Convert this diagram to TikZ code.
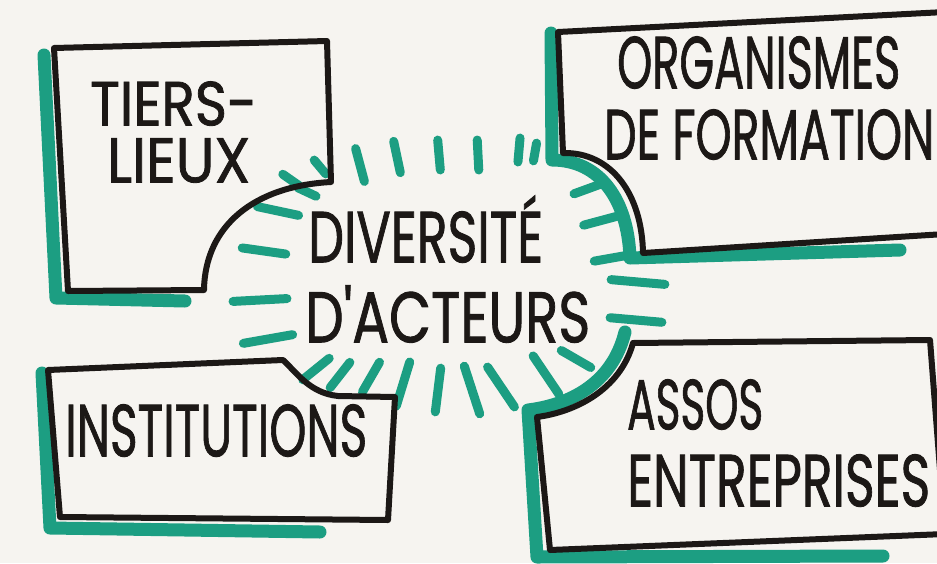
\documentclass[tikz,border=0pt]{standalone}
\usepackage{fontspec}
\setmainfont{Poppins}
\newfontfamily\markerfont{Poppins}[FakeBold=1.3]
\usepackage{graphicx}
\definecolor{paper}{RGB}{246,244,240}
\definecolor{mkgreen}{RGB}{28,158,130}
\definecolor{inkc}{RGB}{28,24,22}
\newcommand{\fitbox}[3]{\resizebox{#1}{#2}{\markerfont #3}}
\begin{document}
\begin{tikzpicture}[x=1pt,y=-1pt,
  inkline/.style={draw=inkc, line width=6pt, line join=round, line cap=round},
  greenband/.style={draw=mkgreen, line width=13pt, line join=round, line cap=round},
  raystroke/.style={draw=mkgreen, line width=9pt, line cap=round},
  lbl/.style={text=inkc, inner sep=0pt, anchor=south west}]
\fill[paper] (0,0) rectangle (937,563);
\useasboundingbox (0,0) rectangle (937,563);
\clip (0,0) rectangle (937,563);

% rays around the centre
\foreach \cx/\cy/\a/\h in {
  291/180/35/10, 320/167/50/9, 307/192/25/10,
  360/165/75/17, 397/157/78/16, 439/155/85/15, 478/155/87/15, 519/150/95/12, 535/152/100/9,
  278/211/12/21, 264/251/8/22, 260/300/-3/27, 268/339/-10/25,
  316/369/141/17, 340/375/128/16, 371/377/120/17, 403/384/107/23,
  438/390/97/22, 472/390/72/25, 501/387/56/24, 546/375/56/23, 576/359/30/17,
  590/188/-20/17, 603/220/-15/20, 612/258/-10/18, 638/282/5/27, 636/320/5/26}
  \draw[raystroke] (\cx,\cy) ++(\a:-\h) -- ++(\a:2*\h);

% green marker shadows
\draw[greenband] (44,55) -- (56,298) -- (185,301);
\draw[greenband] (551,33) -- (552,160) .. controls (600,160) and (628,200) .. (630,258) -- (900,250);
\draw[greenband] (42,373) -- (50,528) -- (320,532);
\draw[greenband] (625,332) .. controls (612,385) and (568,405) .. (528,410) -- (537,557) -- (883,556);

% boxes
\draw[inkline] (54,48) -- (327,41) -- (331,182) .. controls (255,186) and (205,225) .. (204,290) -- (68,291) -- cycle;
\draw[inkline] (945,12) -- (558,32) -- (563,153) .. controls (612,152) and (642,195) .. (643,253) -- (945,234);
\draw[inkline] (48,370) -- (283,360) .. controls (298,374) and (310,393) .. (338,396) -- (395,397) -- (388,520) -- (60,517) -- cycle;
\draw[inkline] (940,470) -- (930,340) -- (633,343) .. controls (620,390) and (575,412) .. (537,417) -- (550,550) -- (945,534);

% texts
\node[lbl] (t1) at (90,126) {\fitbox{167pt}{44pt}{TIERS-}};
\node[lbl] (t2) at (107,183) {\fitbox{143pt}{44pt}{LIEUX}};
\node[lbl] (o1) at (617,89) {\fitbox{283pt}{52pt}{ORGANISMES}};
\node[lbl] (o2) at (604,160) {\fitbox{330pt}{50pt}{DE FORMATION}};
\node[lbl] (d1) at (308,263) {\fitbox{235pt}{51pt}{DIVERSIT\smash{\rlap{\'E}}\phantom{E}}};
\node[lbl] (d2) at (305,343) {\fitbox{285pt}{57pt}{D'ACTEURS}};
\node[lbl] (i1) at (65,457) {\fitbox{302pt}{52pt}{INSTITUTIONS}};
\node[lbl] (a1) at (627,430) {\fitbox{136pt}{50pt}{ASSOS}};
\node[lbl] (a2) at (627,507) {\fitbox{303pt}{52pt}{ENTREPRISES}};
\end{tikzpicture}
\end{document}
